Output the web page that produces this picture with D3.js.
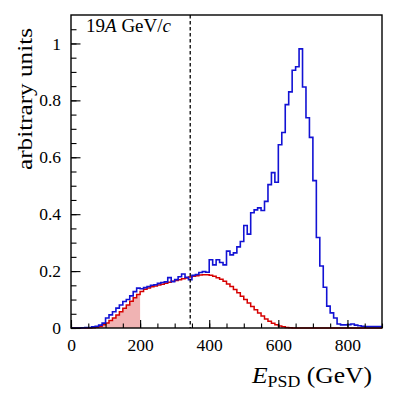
<!DOCTYPE html>
<html>
<head>
<meta charset="utf-8">
<script src="https://cdn.jsdelivr.net/npm/d3@7"></script>
<style>
  body { margin: 0; background: #fff; }
  svg { display: block; }
  text { font-family: "Liberation Serif", "DejaVu Serif", serif; fill: #000; }
</style>
</head>
<body>
<svg width="399" height="403"></svg>
<script>
const width = 399;
const height = 403;

// bin low edges, 10 GeV wide
const binLow = d3.range(0, 900, 10);

// measured spectrum (blue)
const dataVals = [
  0, 0, 0, 0.001, 0.002, 0.002, 0.004, 0.006, 0.010, 0.017,
  0.035, 0.046, 0.057, 0.070, 0.081, 0.093, 0.100, 0.113, 0.128, 0.140,
  0.138, 0.142, 0.146, 0.150, 0.152, 0.157, 0.160, 0.162, 0.177, 0.163,
  0.170, 0.180, 0.190, 0.178, 0.170, 0.185, 0.188, 0.195, 0.198, 0.196,
  0.240, 0.222, 0.240, 0.230, 0.222, 0.270, 0.257, 0.264, 0.285, 0.304,
  0.360, 0.330, 0.405, 0.415, 0.422, 0.413, 0.445, 0.504, 0.546, 0.512,
  0.644, 0.687, 0.785, 0.830, 0.906, 0.918, 0.981, 0.847, 0.739, 0.670,
  0.518, 0.318, 0.218, 0.143, 0.077, 0.053, 0.035, 0.014, 0.011, 0.011,
  0.012, 0.014, 0.010, 0.008, 0.006, 0.005, 0.005, 0.005, 0.005, 0.005
];

// fitted component (red)
const fitVals = [
  0, 0, 0, 0, 0, 0, 0.001, 0.003, 0.006, 0.011,
  0.018, 0.026, 0.035, 0.046, 0.057, 0.069, 0.081, 0.094, 0.106, 0.118,
  0.128, 0.136, 0.141, 0.145, 0.148, 0.151, 0.154, 0.157, 0.161, 0.164,
  0.167, 0.170, 0.173, 0.176, 0.179, 0.182, 0.184, 0.186, 0.187, 0.187,
  0.185, 0.182, 0.177, 0.171, 0.164, 0.155, 0.146, 0.135, 0.124, 0.112,
  0.100, 0.088, 0.076, 0.064, 0.053, 0.042, 0.032, 0.024, 0.017, 0.011,
  0.007, 0.004, 0.002, 0.001, 0, 0, 0, 0, 0, 0,
  0, 0, 0, 0, 0, 0, 0, 0, 0, 0,
  0, 0, 0, 0, 0, 0, 0, 0, 0, 0
];

const shadeMax = 200;   // shaded part of fit
const cutE = 345;       // dashed line
const xTicks = [0, 200, 400, 600, 800];
const xMinor = d3.range(0, 901, 50);
const yTicks = [0, 0.2, 0.4, 0.6, 0.8, 1];
const yMinor = d3.range(0, 1.1, 0.05);

const margin = { left: 71, right: 17, top: 15, bottom: 75 };

const x = d3.scaleLinear()
  .domain([0, 900])
  .range([margin.left, width - margin.right]);
const y = d3.scaleLinear()
  .domain([0, 1.1])
  .range([height - margin.bottom, margin.top]);

const svg = d3.select("svg");

const toPts = vals => {
  const pts = binLow.map((b, i) => [b, vals[i]]);
  pts.push([900, vals[vals.length - 1]]);
  return pts;
};

const step = d3.line()
  .x(d => x(d[0]))
  .y(d => y(d[1]))
  .curve(d3.curveStepAfter);

const shadeArea = d3.area()
  .x(d => x(d[0]))
  .y0(y(0))
  .y1(d => y(d[1]))
  .curve(d3.curveStepAfter);

const shadePts = toPts(fitVals).filter(d => d[0] < shadeMax);
shadePts.push([shadeMax, fitVals[binLow.indexOf(shadeMax - 10)]]);

const plot = svg.append("g");

plot.append("path")
  .datum(shadePts)
  .attr("d", shadeArea)
  .attr("fill", "#f0b3b3");

plot.append("path")
  .datum(toPts(fitVals))
  .attr("d", step)
  .attr("fill", "none")
  .attr("stroke", "#d60000")
  .attr("stroke-width", 1.5);

plot.append("path")
  .datum(toPts(dataVals))
  .attr("d", step)
  .attr("fill", "none")
  .attr("stroke", "#1212d4")
  .attr("stroke-width", 1.6);

plot.append("line")
  .attr("x1", x(cutE)).attr("x2", x(cutE))
  .attr("y1", y(1.1)).attr("y2", y(0))
  .attr("stroke", "#000")
  .attr("stroke-width", 1.3)
  .attr("stroke-dasharray", "3.5,2.5");

// axes with inward ticks
svg.append("g")
  .attr("transform", `translate(0,${y(0)})`)
  .call(d3.axisBottom(x).tickValues(xTicks).tickSize(-8).tickPadding(11)
    .tickFormat(d3.format("d")));
svg.append("g")
  .attr("transform", `translate(0,${y(0)})`)
  .call(d3.axisBottom(x).tickValues(xMinor).tickSize(-4.5).tickFormat(""));

svg.append("g")
  .attr("transform", `translate(${x(0)},0)`)
  .call(d3.axisLeft(y).tickValues(yTicks).tickSize(-9.5).tickPadding(10)
    .tickFormat(d3.format("~g")));
svg.append("g")
  .attr("transform", `translate(${x(0)},0)`)
  .call(d3.axisLeft(y).tickValues(yMinor).tickSize(-5.5).tickFormat(""));

svg.selectAll(".domain").remove();
svg.selectAll(".tick line").attr("stroke", "#000").attr("stroke-width", 1.1);
svg.selectAll(".tick text")
  .style("font-family", "'Liberation Serif', serif")
  .style("font-size", "17.5px");

// frame
svg.append("rect")
  .attr("x", x(0)).attr("y", y(1.1))
  .attr("width", x(900) - x(0))
  .attr("height", y(0) - y(1.1))
  .attr("fill", "none")
  .attr("stroke", "#000")
  .attr("stroke-width", 1.4);

// labels
const note = svg.append("text")
  .attr("x", 86).attr("y", 32)
  .attr("textLength", 85)
  .attr("lengthAdjust", "spacingAndGlyphs")
  .style("font-size", "18.5px");
note.append("tspan").text("19");
note.append("tspan").style("font-style", "italic").text("A");
note.append("tspan").text(" GeV/");
note.append("tspan").style("font-style", "italic").text("c");

const xl = svg.append("text")
  .attr("x", 252).attr("y", 383)
  .attr("textLength", 120)
  .attr("lengthAdjust", "spacingAndGlyphs")
  .style("font-size", "23px");
xl.append("tspan").style("font-style", "italic").text("E");
xl.append("tspan").attr("dy", 4).style("font-size", "16px").text("PSD");
xl.append("tspan").attr("dy", -4).text(" (GeV)");

svg.append("text")
  .attr("transform", "translate(32,170) rotate(-90)")
  .attr("textLength", 142)
  .attr("lengthAdjust", "spacingAndGlyphs")
  .style("font-size", "22px")
  .text("arbitrary units");
</script>
</body>
</html>
